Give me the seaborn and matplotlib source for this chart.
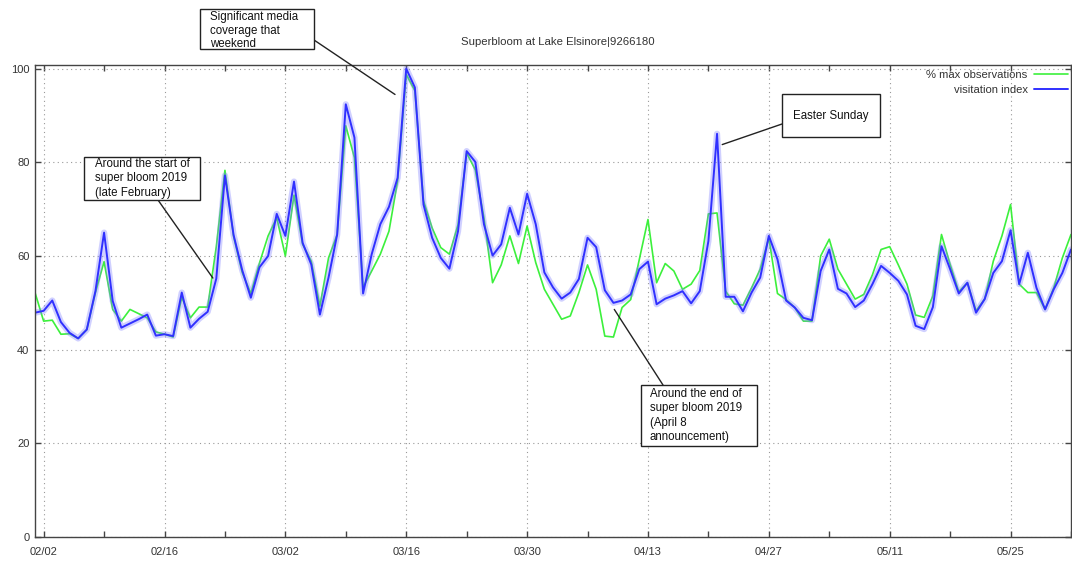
import numpy as np
import pandas as pd
import matplotlib
matplotlib.use("Agg")
import matplotlib.pyplot as plt
import matplotlib.dates as mdates
import seaborn as sns
from matplotlib.patches import Rectangle
from matplotlib.lines import Line2D

# ---------------- data ----------------
start_date = "2019-02-01"
title = "Superbloom at Lake Elsinore|9266180"
series_names = ["% max observations", "visitation index"]

max_observations = [
    52.2, 46.1, 46.3, 43.3, 43.4, 42.4, 44.3, 52.2, 58.8, 48.6,
    46.1, 48.6, 47.7, 46.8, 43.8, 43.3, 42.7, 51.2, 46.8, 49.1,
    49.1, 62.0, 78.3, 64.2, 56.5, 52.0, 58.5, 64.3, 68.2, 60.0,
    73.0, 62.5, 58.9, 49.3, 59.6, 64.6, 87.8, 81.0, 53.3, 56.8,
    60.4, 65.3, 76.0, 98.8, 95.3, 71.8, 66.0, 61.8, 60.4, 66.7,
    82.0, 78.4, 68.2, 54.3, 58.1, 64.3, 58.4, 66.4, 58.6, 52.9,
    49.7, 46.5, 47.2, 52.2, 58.1, 52.9, 42.9, 42.7, 49.0, 50.7,
    59.3, 67.8, 54.3, 58.4, 56.8, 52.9, 54.0, 56.9, 69.0, 69.2,
    52.5, 49.8, 49.5, 53.2, 57.2, 63.9, 52.0, 50.7, 49.0, 46.1,
    46.1, 60.0, 63.6, 57.2, 54.0, 50.8, 51.8, 56.0, 61.4, 62.0,
    58.1, 54.0, 47.4, 46.9, 51.5, 64.6, 58.2, 52.4, 54.3, 48.3,
    50.8, 58.9, 64.3, 71.0, 54.0, 52.2, 52.2, 48.6, 53.2, 59.6,
    64.6,
]

visitation_index = [
    47.9, 48.3, 50.5, 45.9, 43.6, 42.4, 44.3, 52.5, 65.0, 50.4,
    44.7, 45.6, 46.5, 47.5, 43.0, 43.3, 42.9, 52.2, 44.7, 46.6,
    48.1, 55.2, 77.2, 64.5, 57.0, 51.1, 57.6, 60.0, 69.0, 64.3,
    75.9, 62.8, 58.2, 47.5, 55.4, 64.6, 92.4, 85.3, 52.0, 60.4,
    66.8, 70.5, 76.7, 100.0, 96.0, 71.0, 63.9, 59.6, 57.3, 65.3,
    82.4, 80.1, 66.8, 60.1, 62.5, 70.3, 64.6, 73.3, 66.8, 56.5,
    53.3, 50.9, 52.2, 55.1, 63.9, 61.9, 52.7, 50.0, 50.5, 51.8,
    57.2, 58.8, 49.7, 50.9, 51.6, 52.5, 49.9, 52.5, 63.2, 86.1,
    51.3, 51.3, 48.2, 52.2, 55.4, 64.3, 59.3, 50.5, 49.0, 46.8,
    46.3, 56.8, 61.4, 53.0, 52.0, 49.1, 50.5, 54.0, 57.9, 56.4,
    54.7, 51.8, 45.1, 44.4, 49.1, 62.1, 57.2, 52.0, 54.3, 47.9,
    50.8, 56.4, 58.9, 65.5, 54.0, 60.7, 53.2, 48.6, 52.9, 56.4,
    61.4,
]

y_ticks = [0, 20, 40, 60, 80, 100]

dates = pd.date_range(start_date, periods=len(max_observations), freq="D")
df = pd.DataFrame({"date": dates, "obs": max_observations, "visit": visitation_index})

# ---------------- figure ----------------
sns.set_style("white")
plt.rcParams["font.family"] = ["Liberation Sans", "DejaVu Sans"]

W, H = 1072, 562
fig = plt.figure(figsize=(W / 100, H / 100), dpi=100)
ax = fig.add_axes([35 / W, 1 - 537 / H, (1071 - 35) / W, (537 - 64.5) / H])

GREEN = "#3cf03c"
BLUE = "#3030ff"

sns.lineplot(data=df, x="date", y="obs", ax=ax, color=GREEN, lw=1.2, legend=False)
sns.lineplot(data=df, x="date", y="visit", ax=ax, color="#7b7bff", lw=4.5, alpha=0.35, legend=False)
sns.lineplot(data=df, x="date", y="visit", ax=ax, color=BLUE, lw=1.4, legend=False)

ax.set_xlim(dates[0], dates[-1])
ax.set_ylim(0, 100.9)
ax.set_yticks(y_ticks)
ax.set_xticks(pd.date_range("2019-02-02", dates[-1], freq="14D"))
ax.set_xticks(pd.date_range("2019-02-09", dates[-1], freq="14D"), minor=True)
ax.xaxis.set_major_formatter(mdates.DateFormatter("%m/%d"))
ax.set_xlabel("")
ax.set_ylabel("")

ax.tick_params(which="both", direction="in", top=True, bottom=True, left=True, right=True,
               length=4, width=1, color="#444", labelsize=8, labelcolor="#333")
ax.tick_params(axis="x", pad=7)
ax.tick_params(axis="y", pad=4)
ax.grid(True, which="major", linestyle=(0, (1, 3)), color="#999999", lw=0.8)
for s in ax.spines.values():
    s.set_color("#444")
    s.set_linewidth(1)

fig.text(558 / W, 1 - 42 / H, title, ha="center", va="center", fontsize=8.2, color="#333")

handles = [Line2D([], [], color=GREEN, lw=1.2), Line2D([], [], color=BLUE, lw=1.4)]
ax.legend(handles, series_names, loc="upper right", bbox_to_anchor=(1068 / W, 1 - 70 / H),
          bbox_transform=fig.transFigure, frameon=False, markerfirst=False, fontsize=8.1,
          handlelength=3.0, handletextpad=0.6, labelspacing=0.45, borderpad=0, borderaxespad=0,
          labelcolor="#333")


def fp(x, y):
    return (x / W, 1 - y / H)


def box(x0, y0, x1, y1):
    fig.add_artist(Rectangle(fp(x0, y1), (x1 - x0) / W, (y1 - y0) / H, transform=fig.transFigure,
                             fc="white", ec="#222", lw=1, zorder=5))


def day(i):
    return mdates.date2num(dates[0] + pd.Timedelta(days=i))


def connector(tip_day, tip_val, px, py):
    ax.annotate("", xy=(day(tip_day), tip_val), xycoords="data", xytext=fp(px, py),
                textcoords="figure fraction", annotation_clip=False,
                arrowprops=dict(arrowstyle="-", color="#222", lw=1, shrinkA=0, shrinkB=0))


notes = [
    # box (x0,y0,x1,y1), text pos, text, linespacing, tip (day, value), line start (px)
    ((200, 9, 314, 49), (210, 11), "Significant media\ncoverage that\nweekend", 1.18, (41.7, 94.5), (314, 40)),
    ((84, 157, 200, 200), (95, 158), "Around the start of\nsuper bloom 2019\n(late February)", 1.26, (20.6, 55.3), (158, 200)),
    ((782, 94, 880, 137), (793, 116), "Easter Sunday", 1.2, (79.6, 83.8), (782, 124)),
    ((641, 385, 757, 446), (650, 388), "Around the end of\nsuper bloom 2019\n(April 8\nannouncement)", 1.27, (67.1, 48.6), (663, 385)),
]
for (bx, tpos, text, ls, tip, start) in notes:
    box(*bx)
    va = "center" if "\n" not in text else "top"
    fig.text(*fp(*tpos), text, ha="left", va=va, fontsize=8.3, linespacing=ls, color="#111", zorder=6)
    connector(tip[0], tip[1], *start)

fig.savefig("out.png", dpi=100)
